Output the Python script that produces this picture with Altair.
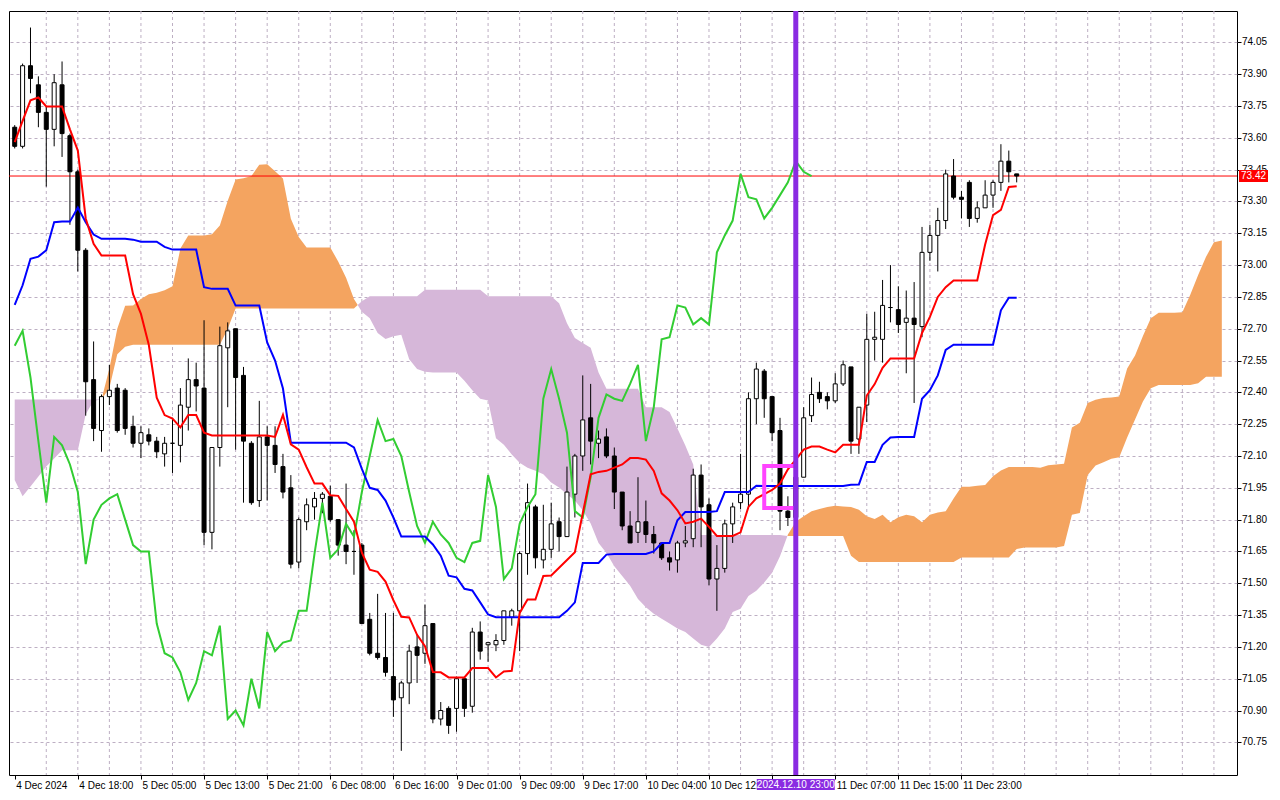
import json
import altair as alt
import pandas as pd

# ---------------- data ----------------
opens = [73.65,73.56,73.94,73.85,73.72,73.64,73.85,73.61,73.44,73.07,
         72.46,72.22,72.38,72.42,72.41,72.24,72.16,72.20,72.17,72.11,
         72.16,72.15,72.33,72.46,72.42,71.74,72.14,72.61,72.70,72.48,
         72.16,71.89,72.19,72.15,72.05,71.95,71.60,71.79,71.86,71.90,
         71.91,71.80,71.68,71.65,71.68,71.33,71.17,71.15,71.06,70.96,
         71.03,71.20,71.17,71.31,70.86,70.91,70.91,71.05,70.92,71.27,
         71.21,71.21,71.23,71.34,71.37,71.64,71.86,71.61,71.66,71.79,
         71.72,71.92,72.10,72.28,72.16,72.19,72.10,71.93,71.77,71.74,
         71.79,71.73,71.69,71.62,71.61,71.69,71.71,72.01,71.87,71.52,
         71.57,71.78,71.88,71.92,72.37,72.50,72.38,72.22,71.84,71.81,
         72.00,72.29,72.40,72.38,72.36,72.44,72.52,72.18,72.34,72.65,
         72.65,72.80,72.79,72.73,72.75,72.71,73.06,73.14,73.21,73.42,
         73.32,73.39,73.22,73.27,73.33,73.39,73.49,73.43]
highs = [73.66,73.95,74.12,73.89,73.75,73.90,73.96,73.62,73.45,73.08,
         72.64,72.39,72.53,72.44,72.42,72.29,72.24,72.23,72.19,72.19,
         72.28,72.42,72.56,72.54,72.74,72.14,72.71,72.73,72.70,72.52,
         72.17,72.36,72.24,72.24,72.11,72.01,71.81,71.90,71.93,71.93,
         71.96,71.80,71.97,71.75,71.69,71.36,71.45,71.36,71.36,71.04,
         71.21,71.26,71.40,71.31,70.94,70.92,71.06,71.06,71.29,71.32,
         71.22,71.26,71.37,71.38,71.65,71.97,71.87,71.87,71.88,71.81,
         72.05,72.11,72.48,72.44,72.22,72.23,72.14,71.93,71.84,72.00,
         71.89,71.77,71.69,71.65,71.70,71.77,72.04,72.06,71.90,71.68,
         71.80,71.88,72.11,72.40,72.54,72.51,72.38,72.28,71.91,72.05,
         72.33,72.47,72.45,72.40,72.49,72.55,72.52,72.33,72.77,72.78,
         72.93,73.00,72.90,72.88,72.92,73.18,73.19,73.27,73.45,73.50,
         73.35,73.40,73.30,73.40,73.40,73.57,73.54,73.43]
lows = [73.55,73.55,73.81,73.65,73.37,73.56,73.51,73.19,72.97,72.29,
        72.17,72.12,72.34,72.21,72.20,72.14,72.09,72.15,72.09,72.05,
        72.02,72.07,72.22,72.31,71.68,71.66,72.05,72.33,72.13,71.88,
        71.87,71.86,71.89,72.02,71.90,71.57,71.57,71.75,71.80,71.83,
        71.79,71.63,71.59,71.54,71.31,71.16,71.14,71.06,70.87,70.71,
        70.93,71.03,71.12,70.84,70.83,70.79,70.80,70.87,70.89,71.14,
        71.13,71.18,71.21,71.30,71.18,71.54,71.57,71.57,71.62,71.65,
        71.72,71.81,72.03,72.06,72.09,72.09,71.85,71.75,71.69,71.69,
        71.69,71.64,71.61,71.56,71.55,71.67,71.67,71.67,71.49,71.37,
        71.55,71.69,71.85,71.85,72.25,72.28,72.17,71.75,71.77,71.78,
        72.00,72.26,72.35,72.32,72.35,72.43,72.11,72.11,72.26,72.55,
        72.54,72.73,72.68,72.49,72.35,72.66,73.02,72.97,73.17,73.31,
        73.22,73.18,73.20,73.27,73.27,73.35,73.39,73.39]
closes = [73.56,73.94,73.88,73.72,73.64,73.86,73.62,73.44,73.07,72.45,
          72.23,72.38,72.41,72.22,72.23,72.16,72.21,72.17,72.12,72.16,
          72.16,72.34,72.46,72.43,71.74,72.14,72.62,72.69,72.47,72.17,
          71.88,72.19,72.15,72.06,71.93,71.59,71.80,71.87,71.90,71.92,
          71.80,71.68,71.65,71.65,71.31,71.17,71.15,71.08,70.95,71.03,
          71.18,71.16,71.30,70.86,70.90,70.83,71.05,70.91,71.27,71.18,
          71.22,71.23,71.37,71.37,71.64,71.88,71.62,71.66,71.78,71.72,
          71.93,72.10,72.27,72.17,72.18,72.10,71.93,71.77,71.69,71.79,
          71.73,71.69,71.62,71.60,71.69,71.70,72.01,71.86,71.52,71.57,
          71.78,71.86,71.92,72.37,72.51,72.37,72.21,71.84,71.81,72.00,
          72.28,72.39,72.37,72.36,72.44,72.53,72.17,72.33,72.65,72.66,
          72.81,72.80,72.72,72.75,72.72,73.06,73.14,73.21,73.43,73.32,
          73.31,73.22,73.27,73.33,73.39,73.49,73.44,73.42]

tenkan = [73.58,73.68,73.777,73.79,73.748,73.748,73.748,73.64,73.54,73.22,
          73.10,73.045,73.045,73.045,73.045,72.863,72.77,72.623,72.375,72.293,
          72.276,72.235,72.293,72.293,72.21,72.197,72.197,72.197,72.197,72.197,
          72.197,72.197,72.197,72.19,72.294,72.155,72.13,72.047,71.97,71.97,
          71.915,71.912,71.85,71.79,71.644,71.564,71.554,71.508,71.42,71.342,
          71.339,71.257,71.203,71.082,71.08,71.056,71.056,71.056,71.10,71.10,
          71.10,71.056,71.084,71.087,71.36,71.423,71.423,71.534,71.537,71.573,
          71.61,71.646,71.83,72.014,72.025,72.03,72.045,72.06,72.09,72.09,
          72.083,72.03,71.924,71.89,71.844,71.782,71.79,71.805,71.766,71.723,
          71.723,71.723,71.74,71.86,71.90,71.92,71.94,71.97,72.037,72.083,
          72.13,72.145,72.145,72.13,72.117,72.153,72.153,72.153,72.385,72.439,
          72.516,72.56,72.56,72.56,72.56,72.68,72.756,72.85,72.896,72.927,
          72.927,72.927,72.927,73.097,73.236,73.26,73.368,73.372]

kijun = [72.813,72.905,73.03,73.04,73.07,73.202,73.205,73.205,73.271,73.202,
         73.144,73.124,73.124,73.124,73.124,73.12,73.11,73.11,73.11,73.086,
         73.073,73.073,73.073,73.073,72.896,72.888,72.888,72.888,72.809,72.809,
         72.809,72.809,72.635,72.55,72.418,72.163,72.163,72.163,72.163,72.163,
         72.163,72.163,72.163,72.14,72.039,71.95,71.94,71.89,71.81,71.72,
         71.72,71.72,71.72,71.683,71.63,71.536,71.528,71.474,71.466,71.41,
         71.353,71.34,71.34,71.34,71.34,71.34,71.34,71.34,71.34,71.34,
         71.37,71.41,71.596,71.596,71.596,71.635,71.638,71.638,71.638,71.638,
         71.638,71.65,71.69,71.69,71.797,71.836,71.836,71.836,71.836,71.84,
         71.93,71.93,71.93,71.93,71.96,71.959,71.959,71.959,71.959,71.959,
         71.959,71.959,71.959,71.959,71.959,71.959,71.964,71.966,72.072,72.072,
         72.153,72.187,72.19,72.19,72.19,72.37,72.41,72.48,72.60,72.625,
         72.625,72.625,72.625,72.625,72.625,72.787,72.846,72.846]

chikou = [72.62,72.69,72.47,72.17,71.88,72.19,72.15,72.06,71.93,71.59,
          71.80,71.87,71.90,71.92,71.80,71.68,71.65,71.65,71.31,71.17,
          71.15,71.08,70.95,71.03,71.18,71.16,71.30,70.86,70.90,70.83,
          71.05,70.91,71.27,71.18,71.22,71.23,71.37,71.37,71.64,71.88,
          71.62,71.66,71.78,71.72,71.93,72.10,72.27,72.17,72.18,72.10,
          71.93,71.77,71.69,71.79,71.73,71.69,71.62,71.60,71.69,71.70,
          72.01,71.86,71.52,71.57,71.78,71.86,71.92,72.37,72.51,72.37,
          72.21,71.84,71.81,72.00,72.28,72.39,72.37,72.36,72.44,72.53,
          72.17,72.33,72.65,72.66,72.81,72.80,72.72,72.75,72.72,73.06,
          73.14,73.21,73.43,73.32,73.31,73.22,73.27,73.33,73.39,73.49,
          73.44,73.42]

senkou_a = [71.987,71.91,71.956,72.003,72.05,72.088,72.127,72.127,72.127,72.297,
            72.36,72.366,72.513,72.70,72.808,72.81,72.84,72.862,72.87,72.882,
            72.90,73.078,73.14,73.14,73.14,73.145,73.187,73.303,73.404,73.41,
            73.42,73.473,73.476,73.442,73.408,73.218,73.133,73.083,73.083,73.083,
            73.083,73.017,72.94,72.84,72.78,72.75,72.68,72.652,72.664,72.672,
            72.556,72.51,72.497,72.494,72.494,72.494,72.494,72.455,72.41,72.37,
            72.362,72.184,72.153,72.107,72.068,72.045,72.03,72.014,71.975,71.952,
            71.92,71.89,71.844,71.782,71.69,71.643,71.58,71.534,71.488,71.426,
            71.387,71.356,71.333,71.31,71.287,71.27,71.24,71.21,71.20,71.24,
            71.287,71.364,71.38,71.44,71.465,71.503,71.55,71.627,71.73,71.79,
            71.816,71.839,71.85,71.86,71.865,71.862,71.86,71.847,71.816,71.803,
            71.823,71.788,71.811,71.823,71.816,71.788,71.823,71.834,71.839,71.90,
            71.955,71.955,71.96,71.963,72.005,72.032,72.048,72.048,72.048,72.048,
            72.045,72.056,72.06,72.063,72.234,72.257,72.35,72.365,72.373,72.376,
            72.38,72.512,72.574,72.666,72.75,72.775,72.775,72.775,72.778,72.86,
            72.953,73.039,73.108,73.116]
senkou_b = [72.366,72.366,72.366,72.366,72.366,72.366,72.366,72.366,72.366,72.366,
            72.366,72.366,72.42,72.58,72.615,72.625,72.625,72.625,72.625,72.625,
            72.625,72.625,72.625,72.625,72.625,72.625,72.625,72.70,72.795,72.795,
            72.795,72.795,72.795,72.795,72.795,72.795,72.795,72.795,72.795,72.795,
            72.795,72.795,72.795,72.795,72.83,72.853,72.853,72.853,72.853,72.853,
            72.853,72.853,72.884,72.884,72.884,72.884,72.884,72.884,72.884,72.884,
            72.853,72.853,72.853,72.853,72.853,72.853,72.853,72.853,72.853,72.82,
            72.726,72.656,72.633,72.61,72.494,72.417,72.417,72.417,72.417,72.417,
            72.33,72.33,72.33,72.308,72.23,72.15,72.06,71.728,71.728,71.728,
            71.728,71.728,71.728,71.728,71.728,71.728,71.728,71.728,71.723,71.723,
            71.723,71.723,71.723,71.723,71.723,71.723,71.63,71.60,71.60,71.60,
            71.60,71.60,71.60,71.60,71.60,71.60,71.60,71.60,71.60,71.60,
            71.622,71.622,71.622,71.622,71.622,71.622,71.622,71.661,71.668,71.668,
            71.668,71.668,71.668,71.676,71.823,71.831,72.01,72.055,72.07,72.087,
            72.094,72.187,72.272,72.357,72.419,72.435,72.435,72.435,72.435,72.435,
            72.443,72.474,72.474,72.474]

price_ticks = [70.75,70.90,71.05,71.20,71.35,71.50,71.65,71.80,71.95,72.10,72.25,
               72.40,72.55,72.70,72.85,73.00,73.15,73.30,73.45,73.60,73.75,73.90,74.05]
time_tick_idx = list(range(0, 121, 8))
time_labels = ["4 Dec 2024", "4 Dec 18:00", "5 Dec 05:00", "5 Dec 13:00", "5 Dec 21:00",
               "6 Dec 08:00", "6 Dec 16:00", "9 Dec 01:00", "9 Dec 09:00", "9 Dec 17:00",
               "10 Dec 04:00", "10 Dec 12:00", "", "11 Dec 07:00", "11 Dec 15:00",
               "11 Dec 23:00"]
grid_idx = list(range(4, 154, 4))

bid_price = 73.42
bid_text = "73.42"
marker_idx = 99
marker_text = "2024.12.10 23:00"
box_idx = [95.0, 99.0]
box_price = [71.855, 72.053]

# ---------------- layout / style ----------------
W, H = 1228, 764
FONT = "Liberation Sans"
FS = 10
ORANGE = "#F4A460"
LILAC = "#D6B7D9"
GRID = "#BDAFC3"

xs = alt.Scale(domain=[-0.09, 154.29], nice=False, zero=False)
ys = alt.Scale(domain=[70.596, 74.198], nice=False, zero=False)

label_expr = json.dumps(time_labels) + "[round(datum.value / 8)]"
xaxis = alt.Axis(values=time_tick_idx, labelExpr=label_expr, orient="bottom", grid=False,
                 domain=False, tickSize=4, tickColor="black", labelAlign="left",
                 labelBaseline="top", labelPadding=1, labelOffset=1, labelFontSize=FS,
                 labelFont=FONT, labelColor="black", labelOverlap=False, labelFlush=False,
                 title=None)
yaxis = alt.Axis(values=price_ticks, orient="right", grid=True, labels=False,
                 gridDash=[3, 3], gridColor=GRID, gridWidth=1, domain=False, tickSize=4,
                 tickColor="black", title=None)


def X(field):
    return alt.X(field, type="quantitative", scale=xs, axis=xaxis)


def Y(field):
    return alt.Y(field, type="quantitative", scale=ys, axis=yaxis)


# ---------------- cloud polygons split where the spans cross ----------------
cloud_idx = list(range(len(senkou_a)))
rows = []
seg = 0
prev = None
for i in cloud_idx:
    a, b = senkou_a[i], senkou_b[i]
    kind = "bull" if a >= b else "bear"
    if prev is not None and kind != prev:
        a0, b0 = senkou_a[i - 1], senkou_b[i - 1]
        d0, d1 = a0 - b0, a - b
        t = d0 / (d0 - d1)
        xi = cloud_idx[i - 1] + t
        yi = a0 + t * (a - a0)
        rows.append(dict(x=xi, hi=yi, lo=yi, seg=seg, kind=prev))
        seg += 1
        rows.append(dict(x=xi, hi=yi, lo=yi, seg=seg, kind=kind))
    rows.append(dict(x=i, hi=max(a, b), lo=min(a, b), seg=seg, kind=kind))
    prev = kind
cloud_df = pd.DataFrame(rows)

candles = pd.DataFrame({"idx": list(range(len(closes))), "open": opens, "high": highs,
                        "low": lows, "close": closes})

ten_df = pd.DataFrame({"idx": list(range(len(tenkan))), "v": tenkan})
kij_df = pd.DataFrame({"idx": list(range(len(kijun))), "v": kijun})
chi_df = pd.DataFrame({"idx": list(range(len(chikou))), "v": chikou})
grid_df = pd.DataFrame({"g": grid_idx})
ylab_df = pd.DataFrame({"p": price_ticks, "t": [f"{p:.2f}" for p in price_ticks]})
box_df = pd.DataFrame({"x0": [box_idx[0]], "x1": [box_idx[1]],
                       "y0": [box_price[0]], "y1": [box_price[1]]})

vgrid = alt.Chart(grid_df).mark_rule(color=GRID, strokeDash=[3, 3], strokeWidth=1).encode(
    x=X("g"))

cloud = alt.Chart(cloud_df).mark_area(opacity=1, interpolate="linear").encode(
    x=X("x"), y=Y("hi"), y2="lo", detail="seg:N",
    fill=alt.condition("datum.kind == 'bull'", alt.value(ORANGE), alt.value(LILAC)))

bid_line = alt.Chart(box_df).mark_rule(color="#FF0000", strokeWidth=1).encode(
    y=alt.YDatum(bid_price, scale=ys, axis=yaxis))

wicks = alt.Chart(candles).mark_rule(color="black", strokeWidth=1).encode(
    x=X("idx"), y=Y("low"), y2="high")

bodies = alt.Chart(candles).mark_bar(size=4, stroke="black", strokeWidth=1, opacity=1).encode(
    x=X("idx"), y=Y("open"), y2="close",
    fill=alt.condition("datum.close >= datum.open", alt.value("white"), alt.value("black")))

chi_line = alt.Chart(chi_df).mark_line(color="#32CD32", strokeWidth=2).encode(
    x=X("idx"), y=Y("v"))
kij_line = alt.Chart(kij_df).mark_line(color="#0000FF", strokeWidth=2).encode(
    x=X("idx"), y=Y("v"))
ten_line = alt.Chart(ten_df).mark_line(color="#FF0000", strokeWidth=2).encode(
    x=X("idx"), y=Y("v"))

ylabels = alt.Chart(ylab_df).mark_text(align="left", baseline="middle", font=FONT,
                                       fontSize=FS, color="black").encode(
    x=alt.value(W + 5), y=Y("p"), text="t:N")

box = alt.Chart(box_df).mark_rect(fillOpacity=0, stroke="#FF44FF", strokeWidth=4).encode(
    x=X("x0"), x2="x1", y=Y("y0"), y2="y1")

vline = alt.Chart(box_df).mark_rule(color="#8A2BE2", strokeWidth=5).encode(
    x=alt.XDatum(marker_idx, scale=xs, axis=xaxis))

marker_bg = alt.Chart(box_df).mark_rect(color="#8A2BE2", xOffset=-39, x2Offset=39).encode(
    x=alt.XDatum(marker_idx, scale=xs, axis=xaxis), x2=alt.datum(marker_idx),
    y=alt.value(H + 4), y2=alt.value(H + 15))
marker_tx = alt.Chart(box_df).mark_text(color="white", font=FONT, fontSize=FS,
                                        align="center", baseline="middle").encode(
    x=alt.XDatum(marker_idx, scale=xs, axis=xaxis), y=alt.value(H + 10),
    text=alt.value(marker_text))

bid_bg = alt.Chart(box_df).mark_rect(color="#FF0000", yOffset=-6, y2Offset=6).encode(
    x=alt.value(W + 2), x2=alt.value(W + 31),
    y=alt.YDatum(bid_price, scale=ys, axis=yaxis), y2=alt.datum(bid_price))
bid_tx = alt.Chart(box_df).mark_text(color="white", font=FONT, fontSize=FS,
                                     align="left", baseline="middle").encode(
    x=alt.value(W + 4), y=alt.YDatum(bid_price, scale=ys, axis=yaxis),
    text=alt.value(bid_text))

chart = alt.layer(
    vgrid, cloud, bid_line, wicks, bodies, chi_line, kij_line, ten_line,
    ylabels, box, vline, marker_bg, marker_tx, bid_bg, bid_tx
).properties(
    width=W, height=H, padding={"left": 0, "top": 0, "right": 0, "bottom": 0},
    background="white"
).configure_view(stroke="black", strokeWidth=1)

chart.save("out.html", embed_options={"renderer": "svg", "actions": False})
